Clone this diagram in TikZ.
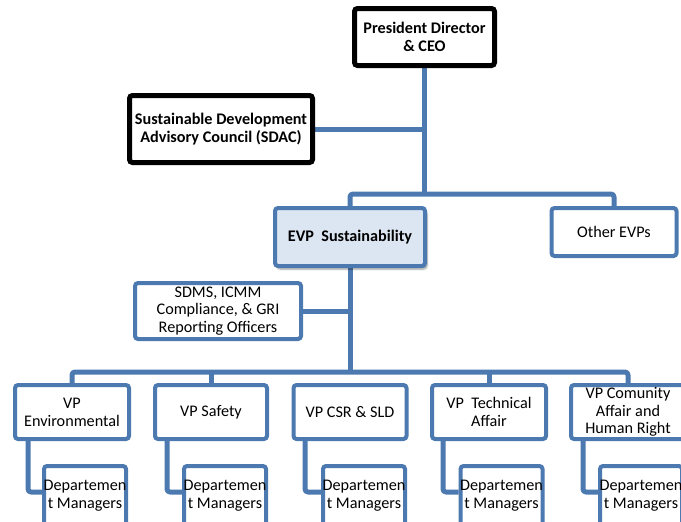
\documentclass[tikz,border=0pt]{standalone}
\usepackage{fontspec}
\setmainfont{Carlito}
\usetikzlibrary{backgrounds,shadows.blur}
\definecolor{orgblue}{RGB}{76,121,176}
\definecolor{evpfill}{RGB}{220,230,242}
\tikzset{
  base/.style={rounded corners=3pt, fill=white, align=center, inner sep=0pt,
    font=\fontsize{16.2}{17.8}\selectfont},
  blackbox/.style={base, draw=black, line width=5pt, font=\fontsize{16.2}{18}\selectfont\bfseries},
  bluebox/.style={base, draw=orgblue, line width=4pt},
  evpbox/.style={bluebox, fill=evpfill, font=\fontsize{16.2}{18}\selectfont\bfseries,
    blur shadow={shadow xshift=2pt, shadow yshift=-3pt, shadow blur steps=6, shadow opacity=40}},
  vpbox/.style={bluebox, minimum height=54pt},
  deptbox/.style={bluebox, minimum width=82pt, minimum height=60pt},
  conn/.style={draw=orgblue, line width=5pt, rounded corners=3pt, line join=round}
}
\newcommand{\zw}[1]{\makebox[0pt]{#1}}
\begin{document}
\begin{tikzpicture}[x=1pt, y=-1pt]
\useasboundingbox (0,0) rectangle (681,522);
\clip (0,0) rectangle (681,522);

\node[blackbox, minimum width=140pt, minimum height=57pt] (pres) at (424.5,37) {President Director\\\& CEO};
\node[blackbox, minimum width=183pt, minimum height=67pt] (sdac) at (221,129) {Sustainable Development\\Advisory Council (SDAC)};
\node[evpbox, minimum width=150pt, minimum height=58pt] (evp) at (350,237) {EVP\ \ Sustainability};
\node[bluebox, minimum width=125pt, minimum height=48pt] (other) at (614,232) {Other EVPs};
\node[bluebox, minimum width=166pt, minimum height=56pt] (sdms) at (218,311) {SDMS, ICMM\\Compliance, \& GRI\\Reporting Officers};

\node[vpbox, minimum width=114pt] (vp1) at (72,412) {VP\\Environmental};
\node[vpbox, minimum width=112pt] (vp2) at (211,412) {VP Safety};
\node[vpbox, minimum width=113pt] (vp3) at (350,412) {VP CSR \& SLD};
\node[vpbox, minimum width=114pt] (vp4) at (489,412) {VP\ \ Technical\\Affair};
\node[vpbox, minimum width=114pt] (vp5) at (628,412) {VP Comunity\\Affair and\\Human Right};

\node[deptbox] (d1) at (85,496) {\zw{Departemen}\\\zw{t Managers}};
\node[deptbox] (d2) at (225,496) {\zw{Departemen}\\\zw{t Managers}};
\node[deptbox] (d3) at (364,496) {\zw{Departemen}\\\zw{t Managers}};
\node[deptbox] (d4) at (501.5,496) {\zw{Departemen}\\\zw{t Managers}};
\node[deptbox] (d5) at (641,496) {\zw{Departemen}\\\zw{t Managers}};

\coordinate (topbus) at (424.5,194);
\coordinate (botbus) at (350,372);
\coordinate (k1) at (28,492);
\coordinate (k2) at (167,492);
\coordinate (k3) at (305,492);
\coordinate (k4) at (443,492);
\coordinate (k5) at (583,492);

\begin{pgfonlayer}{background}
\draw[conn] (pres.south) -- (topbus);
\draw[conn] (evp.north) |- (topbus) -| (other.north);
\draw[conn] (sdac.east) -- (sdac.east -| pres.south);
\draw[conn] (evp.south) -- (botbus);
\draw[conn] (sdms.east) -- (sdms.east -| evp.south);
\draw[conn] (vp1.north) |- (botbus) -| (vp5.north);
\draw[conn] (vp2.north) -- (vp2.north |- botbus);
\draw[conn] (vp4.north) -- (vp4.north |- botbus);
\foreach \i in {1,...,5}{
  \draw[conn] (vp\i.south -| k\i) |- (d\i.west |- k\i);
}
\end{pgfonlayer}
\end{tikzpicture}
\end{document}
